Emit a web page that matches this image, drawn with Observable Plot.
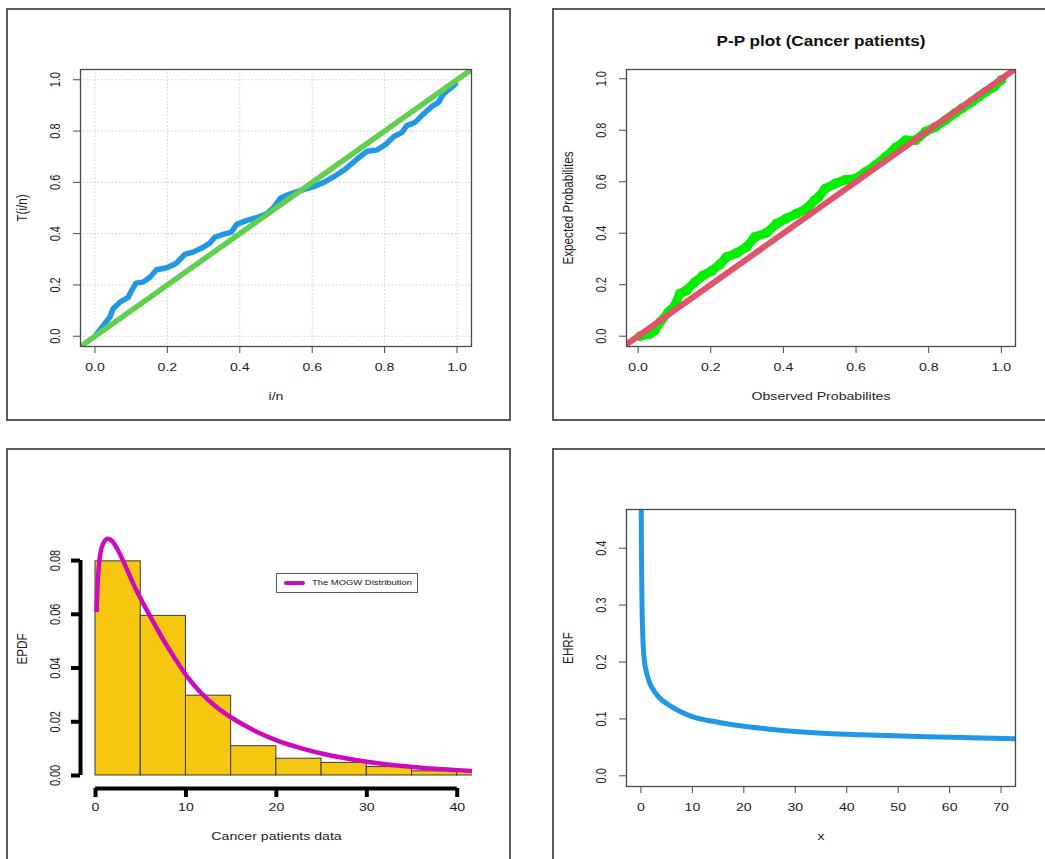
<!DOCTYPE html>
<html>
<head>
<meta charset="utf-8">
<script src="https://cdn.jsdelivr.net/npm/d3@7"></script>
<script src="https://cdn.jsdelivr.net/npm/@observablehq/plot@0.6"></script>
<style>
  html, body { margin: 0; padding: 0; background: #fff; }
  body { position: relative; width: 1045px; height: 859px; overflow: hidden; font-family: "Liberation Sans", Arial, sans-serif; }
  .panel { position: absolute; border: 2px solid #5c5c5c; box-sizing: border-box; }
  .legend { position: absolute; border: 1.5px solid #5c5c5c; box-sizing: border-box; background: #fff; }
  .legend .sw { position: absolute; left: 7px; top: 6.5px; width: 21px; height: 4px; border-radius: 2px; background: #CD0BBC; }
  .legend .lb { position: absolute; left: 35px; top: 0; line-height: 17px; font-size: 7.6px; font-family: "Liberation Sans", Arial, sans-serif; color: #111; white-space: nowrap; transform: scaleX(1.24); transform-origin: 0 50%; }
</style>
</head>
<body>
<script>
// ---------- Data ----------
// Panel 1: scaled TTT plot
const tttX = [0, 0.005, 0.023, 0.041, 0.05, 0.069, 0.092, 0.101, 0.113, 0.133, 0.152, 0.17, 0.198, 0.225, 0.248, 0.271, 0.299, 0.317, 0.331, 0.354, 0.377, 0.391, 0.418, 0.446, 0.474, 0.494, 0.513, 0.54, 0.568, 0.6, 0.632, 0.66, 0.692, 0.724, 0.751, 0.779, 0.802, 0.825, 0.848, 0.861, 0.884, 0.907, 0.93, 0.949, 0.962, 0.985, 1.0];
const tttY = [0, 0.009, 0.042, 0.074, 0.107, 0.133, 0.152, 0.178, 0.207, 0.211, 0.23, 0.259, 0.267, 0.285, 0.319, 0.328, 0.347, 0.363, 0.386, 0.397, 0.406, 0.436, 0.451, 0.462, 0.477, 0.503, 0.539, 0.555, 0.568, 0.581, 0.6, 0.622, 0.652, 0.691, 0.721, 0.726, 0.747, 0.778, 0.795, 0.821, 0.834, 0.866, 0.895, 0.912, 0.944, 0.97, 0.99];

// Panel 2: P-P plot
const ppObserved = [0.005, 0.032, 0.046, 0.06, 0.083, 0.101, 0.115, 0.133, 0.156, 0.179, 0.202, 0.225, 0.243, 0.271, 0.298, 0.321, 0.353, 0.381, 0.408, 0.436, 0.463, 0.486, 0.497, 0.515, 0.543, 0.571, 0.598, 0.626, 0.653, 0.681, 0.709, 0.736, 0.764, 0.791, 0.819, 0.846, 0.874, 0.892, 0.92, 0.938, 0.957, 0.98, 1.0];
const ppExpected = [0.0, 0.009, 0.022, 0.054, 0.093, 0.119, 0.165, 0.178, 0.21, 0.236, 0.253, 0.279, 0.307, 0.323, 0.346, 0.385, 0.401, 0.437, 0.457, 0.476, 0.495, 0.528, 0.541, 0.573, 0.593, 0.608, 0.612, 0.638, 0.664, 0.696, 0.733, 0.761, 0.761, 0.794, 0.813, 0.839, 0.868, 0.885, 0.911, 0.93, 0.949, 0.969, 0.995];

// Reference 45-degree line (abline a=0, b=1)
const diagonal = [-0.1, 1.1];

// Panel 3: histogram + fitted MOGW density
const histBreaks = [0, 5, 10, 15, 20, 25, 30, 35, 40, 45];
const histDensity = [0.0797, 0.0594, 0.0297, 0.0109, 0.00625, 0.00469, 0.00313, 0.00156, 0.00156];
const pdfX = [0.11, 0.22, 0.33, 0.56, 0.93, 1.37, 1.85, 2.41, 2.96, 3.70, 4.44, 5.11, 6.30, 7.59, 8.89, 10.1, 11.6, 13.3, 15.1, 17.4, 20.1, 22.8, 25.0, 27.5, 30.0, 32.5, 35.0, 37.5, 40.0, 41.7];
const pdfY = [0.0608, 0.0701, 0.0763, 0.0831, 0.0868, 0.0881, 0.0872, 0.0843, 0.0806, 0.0750, 0.0695, 0.0651, 0.0577, 0.0500, 0.0430, 0.0370, 0.0310, 0.0257, 0.0214, 0.0170, 0.0130, 0.0101, 0.0082, 0.0065, 0.0051, 0.0040, 0.0032, 0.0025, 0.0020, 0.0017];

// Panel 4: empirical hazard rate function
const hrfX = [0.02, 0.1, 0.2, 0.35, 0.7, 1.0, 1.5, 2.5, 3.5, 5.0, 7.6, 10.0, 15.0, 20.0, 25.0, 30.0, 36.2, 42.7, 49.1, 55.6, 62.1, 68.5, 73.1];
const hrfY = [0.55, 0.40, 0.31, 0.25, 0.20, 0.185, 0.168, 0.150, 0.138, 0.127, 0.113, 0.104, 0.094, 0.087, 0.082, 0.078, 0.0745, 0.0722, 0.0703, 0.0688, 0.0675, 0.0662, 0.065];

// Tick labels
const unitTicks = [0, 0.2, 0.4, 0.6, 0.8, 1.0];
const histXTicks = [0, 10, 20, 30, 40];
const histYTicks = [0, 0.02, 0.04, 0.06, 0.08];
const hrfXTicks = [0, 10, 20, 30, 40, 50, 60, 70];
const hrfYTicks = [0, 0.1, 0.2, 0.3, 0.4];

// ---------- Helpers ----------
const ttt = tttX.map((x, i) => ({x, y: tttY[i]}));
const pp = ppObserved.map((x, i) => ({x, y: ppExpected[i]}));
const bins = histDensity.map((d, i) => ({x0: histBreaks[i], x1: histBreaks[i + 1], d}));
const pdf = pdfX.map((x, i) => ({x, y: pdfY[i]}));
const hrf = hrfX.map((x, i) => ({x, y: hrfY[i]}));

const INK = "#1e1e1e";
const AXIS = "#4a4a4a";
const FONT = "Liberation Sans";

function panel(left, top, width, height) {
  const d = document.createElement("div");
  d.className = "panel";
  Object.assign(d.style, {left: left + "px", top: top + "px", width: width + "px", height: height + "px"});
  document.body.appendChild(d);
}

// The reference image is stretched horizontally: widen horizontal text, shorten vertical text.
function stretchTexts(svg) {
  svg.querySelectorAll("text").forEach(t => {
    const tr = t.getAttribute("transform") || "";
    const k = tr.includes("rotate") ? 0.78 : 1.24;
    const L = t.getComputedTextLength();
    if (L > 0) {
      t.setAttribute("textLength", (L * k).toFixed(2));
      t.setAttribute("lengthAdjust", "spacingAndGlyphs");
    }
  });
}

function place(svg, left, top) {
  svg.style.position = "absolute";
  svg.style.left = left + "px";
  svg.style.top = top + "px";
  document.body.appendChild(svg);
  stretchTexts(svg);
}

function labelsMarks({xTicks, yTicks, xFmt, yFmt, xTitle, yTitle, xLabDy = 21, xTitleDy = 50}) {
  return [
    Plot.text(xTicks, {x: d => d, text: xFmt, frameAnchor: "bottom", dy: xLabDy, lineAnchor: "middle",
      fontSize: 11.4, fontFamily: FONT, fill: INK}),
    Plot.text(yTicks, {y: d => d, text: yFmt, frameAnchor: "left", dx: -25, rotate: -90,
      textAnchor: "middle", lineAnchor: "middle", fontSize: 14, fontFamily: FONT, fill: INK}),
    Plot.text([xTitle], {text: d => d, frameAnchor: "bottom", dy: xTitleDy, lineAnchor: "middle",
      fontSize: 11.4, fontFamily: FONT, fill: INK}),
    Plot.text([yTitle], {text: d => d, frameAnchor: "left", dx: -58, rotate: -90,
      textAnchor: "middle", lineAnchor: "middle", fontSize: 15, fontFamily: FONT, fill: INK})
  ];
}

function tickMarks(xTicks, yTicks, size = 7, width = 1) {
  return [
    Plot.axisX(xTicks, {tickSize: size, fill: "none", stroke: AXIS, strokeWidth: width, label: null}),
    Plot.axisY(yTicks, {tickSize: size, fill: "none", stroke: AXIS, strokeWidth: width, label: null})
  ];
}

const f1 = d3.format(".1f");
const f2 = d3.format(".2f");
const f0 = d3.format("d");
const baseStyle = {background: "transparent", overflow: "visible"};

// ---------- Panel borders ----------
panel(6, 8, 505, 413);
panel(552, 8, 510, 413);
panel(6, 448, 505, 430);
panel(552, 448, 510, 430);

// ---------- Panel 1: TTT plot ----------
{
  const xDom = [-0.04, 1.04], yDom = [-0.04, 1.04];
  const svg = Plot.plot({
    width: 503, height: 412,
    marginLeft: 73, marginRight: 39, marginTop: 61, marginBottom: 74,
    x: {domain: xDom}, y: {domain: yDom},
    style: baseStyle,
    marks: [
      Plot.gridX(unitTicks, {stroke: "#cfcfcf", strokeOpacity: 1, strokeDasharray: "1.5,2"}),
      Plot.gridY(unitTicks, {stroke: "#cfcfcf", strokeOpacity: 1, strokeDasharray: "1.5,2"}),
      Plot.line(ttt, {x: "x", y: "y", stroke: "#2297E6", strokeWidth: 5.5, strokeLinejoin: "round", strokeLinecap: "butt"}),
      Plot.line(diagonal, {x: d => d, y: d => d, stroke: "#61D04F", strokeWidth: 5.5, clip: true}),
      Plot.frame({stroke: AXIS, strokeWidth: 1.3}),
      ...tickMarks(unitTicks, unitTicks),
      ...labelsMarks({xTicks: unitTicks, yTicks: unitTicks, xFmt: f1, yFmt: f1, xTitle: "i/n", yTitle: "T(i/n)"})
    ]
  });
  place(svg, 7, 8);
}

// ---------- Panel 2: P-P plot ----------
{
  const xDom = [-0.032, 1.039], yDom = [-0.04, 1.036];
  const svg = Plot.plot({
    width: 492, height: 412,
    marginLeft: 73, marginRight: 30, marginTop: 61, marginBottom: 74,
    x: {domain: xDom}, y: {domain: yDom},
    style: baseStyle,
    marks: [
      Plot.line(pp, {x: "x", y: "y", stroke: "#00F000", strokeWidth: 9, strokeLinejoin: "round", strokeLinecap: "round", clip: true}),
      Plot.dot(pp, {x: "x", y: "y", r: 5, fill: "#00F000", clip: true}),
      Plot.line(diagonal, {x: d => d, y: d => d, stroke: "#DF536B", strokeWidth: 6, clip: true}),
      Plot.frame({stroke: AXIS, strokeWidth: 1.3}),
      ...tickMarks(unitTicks, unitTicks),
      ...labelsMarks({xTicks: unitTicks, yTicks: unitTicks, xFmt: f1, yFmt: f1, xTitle: "Observed Probabilites", yTitle: "Expected Probabilites"}),
      Plot.text(["P-P plot (Cancer patients)"], {text: d => d, frameAnchor: "top", dy: -28, lineAnchor: "middle",
        fontSize: 13.8, fontWeight: "bold", fontFamily: FONT, fill: "#111"})
    ]
  });
  place(svg, 553, 8);
}

// ---------- Panel 3: histogram + density ----------
{
  const xDom = [-1.66, 41.69], yDom = [-0.00484, 0.099];
  const svg = Plot.plot({
    width: 503, height: 410,
    marginLeft: 73, marginRight: 38, marginTop: 60, marginBottom: 71,
    x: {domain: xDom}, y: {domain: yDom},
    style: baseStyle,
    marks: [
      Plot.rect(bins, {x1: "x0", x2: "x1", y1: 0, y2: "d", fill: "#F5C710", stroke: "#3a3a3a", strokeWidth: 1, clip: true}),
      Plot.line(pdf, {x: "x", y: "y", stroke: "#CD0BBC", strokeWidth: 4.5, curve: "monotone-x", strokeLinecap: "butt", clip: true}),
      // thick R-style axes
      Plot.ruleX([xDom[0]], {y1: histYTicks[0], y2: histYTicks[histYTicks.length - 1], stroke: "#000", strokeWidth: 4}),
      Plot.ruleY([yDom[0]], {x1: histXTicks[0], x2: histXTicks[histXTicks.length - 1], stroke: "#000", strokeWidth: 4}),
      Plot.axisX(histXTicks, {tickSize: 9, fill: "none", stroke: "#000", strokeWidth: 4, label: null}),
      Plot.axisY(histYTicks, {tickSize: 9, fill: "none", stroke: "#000", strokeWidth: 4, label: null}),
      ...labelsMarks({xTicks: histXTicks, yTicks: histYTicks, xFmt: f0, yFmt: f2, xTitle: "Cancer patients data", yTitle: "EPDF", xLabDy: 19, xTitleDy: 48})
    ]
  });
  place(svg, 7, 449);
}

// legend of panel 3
{
  const lg = document.createElement("div");
  lg.className = "legend";
  Object.assign(lg.style, {left: "276px", top: "573px", width: "142px", height: "20px"});
  lg.innerHTML = '<span class="sw"></span><span class="lb">The MOGW Distribution</span>';
  document.body.appendChild(lg);
}

// ---------- Panel 4: EHRF ----------
{
  const xDom = [-2.8, 72.8], yDom = [-0.0188, 0.468];
  const svg = Plot.plot({
    width: 492, height: 410,
    marginLeft: 73, marginRight: 30, marginTop: 60, marginBottom: 73,
    x: {domain: xDom}, y: {domain: yDom},
    style: baseStyle,
    marks: [
      Plot.line(hrf, {x: "x", y: "y", stroke: "#2297E6", strokeWidth: 5, curve: "monotone-x", clip: true}),
      Plot.frame({stroke: AXIS, strokeWidth: 1.3}),
      ...tickMarks(hrfXTicks, hrfYTicks),
      ...labelsMarks({xTicks: hrfXTicks, yTicks: hrfYTicks, xFmt: f0, yFmt: f1, xTitle: "x", yTitle: "EHRF"})
    ]
  });
  place(svg, 553, 449);
}
</script>
</body>
</html>
